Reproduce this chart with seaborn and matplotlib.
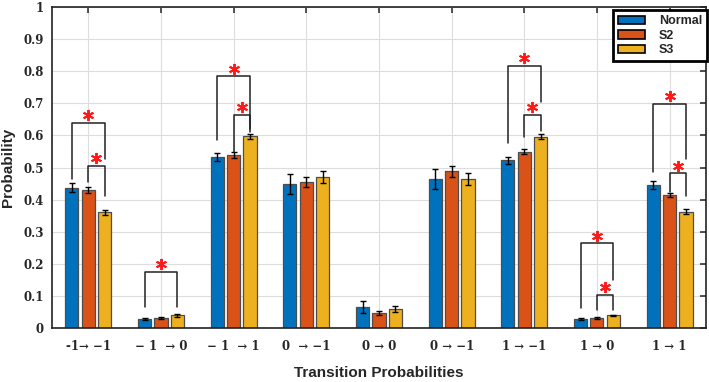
import matplotlib
matplotlib.use("Agg")
import matplotlib.pyplot as plt
import matplotlib.patches as mpatches
import numpy as np
import pandas as pd
import seaborn as sns

# datos
transitions = ["-1\u2192 \u22121", "\u2212 1  \u2192 0", "\u2212 1  \u2192 1", "0  \u2192 \u22121",
               "0 \u2192 0", "0 \u2192 \u22121", "1 \u2192 \u22121", "1 \u2192 0", "1 \u2192 1"]
groups = ["Normal", "S2", "S3"]
normal = [0.437, 0.028, 0.532, 0.449, 0.065, 0.465, 0.522, 0.027, 0.446]
s2 = [0.430, 0.031, 0.538, 0.455, 0.047, 0.488, 0.549, 0.031, 0.415]
s3 = [0.360, 0.039, 0.598, 0.471, 0.058, 0.465, 0.596, 0.039, 0.362]
normal_err = [0.014, 0.004, 0.012, 0.030, 0.018, 0.032, 0.011, 0.003, 0.013]
s2_err = [0.008, 0.003, 0.009, 0.017, 0.007, 0.018, 0.008, 0.003, 0.007]
s3_err = [0.009, 0.004, 0.008, 0.018, 0.009, 0.018, 0.008, 0.003, 0.008]

# corchetes de significancia: grupo, barra izq, barra der, altura, pata izq, pata der
br_group = [0, 0, 1, 2, 2, 6, 6, 7, 7, 8, 8]
br_left = [0, 1, 0, 0, 1, 0, 1, 0, 1, 0, 1]
br_right = [2, 2, 2, 2, 2, 2, 2, 2, 2, 2, 2]
br_top = [0.640, 0.505, 0.175, 0.784, 0.664, 0.817, 0.664, 0.264, 0.103, 0.698, 0.482]
br_low_l = [0.464, 0.455, 0.065, 0.586, 0.550, 0.575, 0.595, 0.063, 0.056, 0.486, 0.425]
br_low_r = [0.527, 0.410, 0.065, 0.620, 0.612, 0.703, 0.614, 0.151, 0.056, 0.528, 0.410]

colors = ["#0072BD", "#D95319", "#EDB120"]

df = pd.DataFrame({
    "transition": transitions * 3,
    "group": [g for g in groups for _ in transitions],
    "prob": normal + s2 + s3,
})

sns.set_style("white")
fig = plt.figure(figsize=(7.09, 3.82), dpi=100)
ax = fig.add_axes([0.0733, 0.1414, 0.9224, 0.840])

sns.barplot(data=df, x="transition", y="prob", hue="group", palette=colors,
            saturation=1, width=0.675, gap=0.2, edgecolor="#4d4d4d", linewidth=0.9,
            errorbar=None, legend=False, ax=ax, zorder=2)

# barras de error y centros de cada barra
bar_conts = list(ax.containers)
centers = []
errs = [normal_err, s2_err, s3_err]
vals = [normal, s2, s3]
for k, cont in enumerate(bar_conts):
    xs = [p.get_x() + p.get_width() / 2 for p in cont.patches]
    centers.append(xs)
    ax.errorbar(xs, vals[k], yerr=errs[k], fmt="none", ecolor="black",
                elinewidth=1.0, capsize=2.5, capthick=1.0, zorder=3)

# corchetes y asteriscos
for g, a, b, top, la, lb in zip(br_group, br_left, br_right, br_top, br_low_l, br_low_r):
    xa = centers[a][g]
    xb = centers[b][g]
    ax.plot([xa, xa, xb, xb], [la, top, top, lb], color="#222222", lw=1.1, zorder=4)
    ax.plot((xa + xb) / 2, top + 0.024, marker=(6, 2, 0), markersize=8,
            markeredgewidth=1.4, color="#ff1a1a", zorder=5)

ax.set_xlim(-0.5, 8.5)
ax.set_ylim(0, 1)
ax.set_yticks(np.arange(0, 1.01, 0.1))
ax.set_yticklabels(["0", "0.1", "0.2", "0.3", "0.4", "0.5", "0.6", "0.7", "0.8", "0.9", "1"])
ax.grid(True, color="#dddddd", lw=0.8, zorder=0)
ax.set_axisbelow(True)

ax.tick_params(direction="in", length=4, width=1.1, top=True, right=True,
               labeltop=False, labelright=False, color="#222222")
ax.tick_params(axis="y", pad=6)
ax.tick_params(axis="x", pad=9)
for lab in ax.get_xticklabels() + ax.get_yticklabels():
    lab.set_family(["DejaVu Serif", "DejaVu Sans"])
    lab.set_fontweight("bold")
    lab.set_fontsize(8.5)

for sp in ax.spines.values():
    sp.set_color("#222222")
    sp.set_linewidth(1.2)

ax.set_xlabel("Transition Probabilities", family="Liberation Sans", fontsize=11,
              fontweight="bold", labelpad=9)
ax.set_ylabel("Probability", family="Liberation Sans", fontsize=11,
              fontweight="bold", labelpad=6)

handles = [mpatches.Patch(facecolor=c, edgecolor="black", lw=1.2, label=g)
           for c, g in zip(colors, groups)]
leg = ax.legend(handles=handles, loc="upper right", bbox_to_anchor=(1.002, 0.99),
                borderaxespad=0, fancybox=False, framealpha=1, edgecolor="black",
                prop={"family": "Liberation Sans", "weight": "bold", "size": 9},
                handlelength=2.2, handleheight=0.7, handletextpad=1.1,
                labelspacing=0.2, borderpad=0.4)
leg.get_frame().set_linewidth(2)

fig.savefig("out.png", dpi=100)
